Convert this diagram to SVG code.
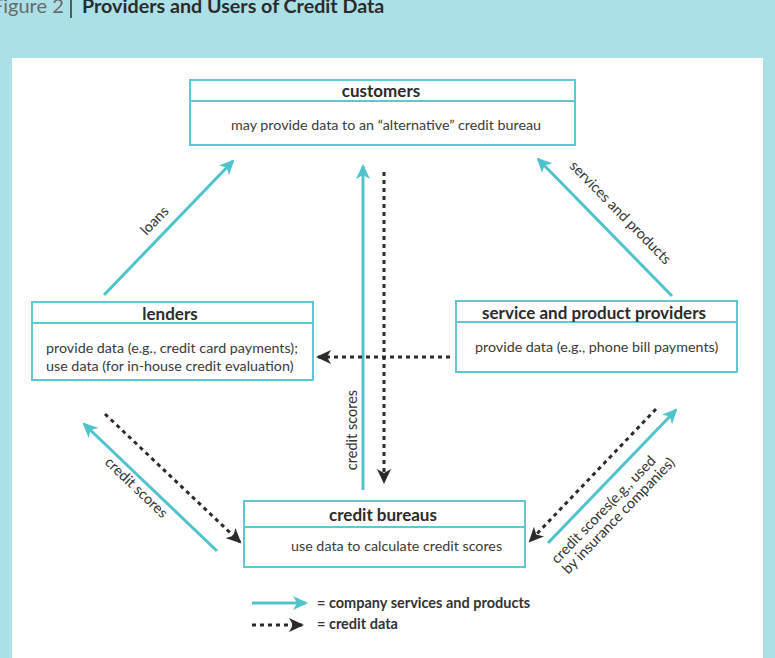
<svg xmlns="http://www.w3.org/2000/svg" width="775" height="658" viewBox="0 0 775 658">
<style>
.bg{fill:#aae0e6}
.box{fill:#fff;stroke:#5cc8d0;stroke-width:2}
.hd{font-family:Lato,"Open Sans",sans-serif;font-weight:bold;font-size:17px;fill:#2b2b2b;text-anchor:middle}
.tx{font-family:Lato,"Open Sans",sans-serif;font-size:14.3px;fill:#3a3a3a}
.lb{font-family:Lato,"Open Sans",sans-serif;font-size:14.5px;fill:#333}
.solid{stroke:#4fc3cc;stroke-width:3;fill:none;marker-end:url(#ah)}
.dot{stroke:#2b2b2b;stroke-width:3;stroke-dasharray:4 4;fill:none;marker-end:url(#ad)}
</style>
<defs>
<marker id="ah" markerUnits="userSpaceOnUse" markerWidth="16" markerHeight="14" refX="13" refY="7" orient="auto">
<path d="M0,0 L15,7 L0,14 L4,7 z" fill="#4fc3cc"/>
</marker>
<marker id="ad" markerUnits="userSpaceOnUse" markerWidth="16" markerHeight="14" refX="13" refY="7" orient="auto">
<path d="M0,0 L15,7 L0,14 L4,7 z" fill="#2b2b2b"/>
</marker>
</defs>
<rect class="bg" x="0" y="0" width="775" height="658"/>
<rect x="12" y="58" width="751" height="600" fill="#fff"/>
<text x="-8" y="13" font-family="Lato,'Open Sans',sans-serif" font-size="20" fill="#6a6a6a">Figure 2</text>
<line x1="71" y1="-2" x2="71" y2="18" stroke="#333" stroke-width="1.5"/>
<text x="82" y="13" font-family="Lato,'Open Sans',sans-serif" font-size="19.7" font-weight="bold" fill="#2b2b2b">Providers and Users of Credit Data</text>

<g id="customers">
<rect class="box" x="190" y="80" width="385" height="65"/>
<line x1="190" y1="101" x2="575" y2="101" stroke="#5cc8d0" stroke-width="2"/>
<text class="hd" x="381" y="97">customers</text>
<text class="tx" x="386" y="130" text-anchor="middle">may provide data to an “alternative” credit bureau</text>
</g>
<g id="lenders">
<rect class="box" x="32" y="302" width="281" height="78"/>
<line x1="32" y1="323" x2="313" y2="323" stroke="#5cc8d0" stroke-width="2"/>
<text class="hd" x="170" y="320">lenders</text>
<text class="tx" x="46" y="353">provide data (e.g., credit card payments);</text>
<text class="tx" x="46" y="371">use data (for in-house credit evaluation)</text>
</g>
<g id="providers">
<rect class="box" x="456" y="301" width="281" height="71"/>
<line x1="456" y1="322" x2="737" y2="322" stroke="#5cc8d0" stroke-width="2"/>
<text class="hd" x="594" y="319">service and product providers</text>
<text class="tx" x="475" y="352">provide data (e.g., phone bill payments)</text>
</g>
<g id="bureaus">
<rect class="box" x="244" y="501" width="281" height="66"/>
<line x1="244" y1="527" x2="525" y2="527" stroke="#5cc8d0" stroke-width="2"/>
<text class="hd" x="383" y="521">credit bureaus</text>
<text class="tx" x="291" y="551">use data to calculate credit scores</text>
</g>

<g id="connectors">
<line class="solid" x1="104" y1="295" x2="233" y2="161"/>
<line class="solid" x1="672" y1="296" x2="538" y2="159"/>
<line class="solid" x1="363" y1="490" x2="363" y2="166"/>
<line class="dot" x1="384" y1="172" x2="384" y2="482"/>
<line class="dot" x1="450" y1="357" x2="318" y2="357"/>
<line class="solid" x1="217" y1="551" x2="84" y2="424"/>
<line class="dot" x1="105" y1="414" x2="240" y2="542"/>
<line class="solid" x1="548" y1="543" x2="676" y2="410"/>
<line class="dot" x1="656" y1="409" x2="530" y2="541"/>
<text class="lb" transform="translate(158,224) rotate(-46)" text-anchor="middle">loans</text>
<text class="lb" transform="translate(617,216) rotate(45.6)" text-anchor="middle">services and products</text>
<text class="lb" transform="translate(357,430) rotate(-90)" text-anchor="middle">credit scores</text>
<text class="lb" transform="translate(133,491) rotate(43.7)" text-anchor="middle">credit scores</text>
<g transform="translate(607,513) rotate(-46)">
<text class="lb" x="0" y="0" text-anchor="middle">credit scores(e.g., used</text>
<text class="lb" x="6" y="15" text-anchor="middle">by insurance companies)</text>
</g>
</g>
<g id="legend">
<line class="solid" x1="252" y1="603" x2="306" y2="603"/>
<line class="dot" x1="252" y1="625" x2="302" y2="625"/>
<text class="lb" x="317" y="608" font-weight="bold">=  company services and products</text>
<text class="lb" x="317" y="629" font-weight="bold">=  credit data</text>
</g>
</svg>
